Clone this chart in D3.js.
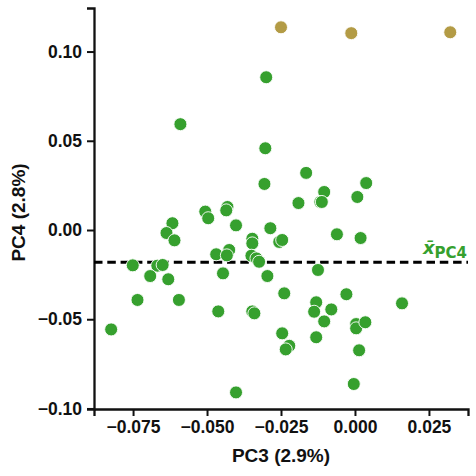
<!DOCTYPE html>
<html>
<head>
<meta charset="utf-8">
<script src="https://cdn.jsdelivr.net/npm/d3@7"></script>
<style>
  html, body { margin: 0; padding: 0; background: #fff; }
  svg { display: block; font-family: "Liberation Sans", Arial, sans-serif; }
</style>
</head>
<body>
<svg id="chart" width="476" height="476"></svg>
<script>
// PC3 / PC4 scores, group "green"
const greenPC3 = [
  -0.0300, -0.0590, -0.0303, -0.0165, -0.0306, 0.0038, -0.0104, 0.0008, -0.0191, -0.0117,
  -0.0112, -0.0506, -0.0496, -0.0431, -0.0435, -0.0617, -0.0637, -0.0610, -0.0402, -0.0286,
  -0.0347, -0.0347, -0.0256, -0.0246, -0.0061, 0.0019, -0.0469, -0.0425, -0.0433, -0.0350,
  -0.0333, -0.0324, -0.0751, -0.0668, -0.0650, -0.0692, -0.0631, -0.0446, -0.0296, -0.0125,
  -0.0239, -0.0735, -0.0595, -0.0029, -0.0131, -0.0138, -0.0080, 0.0159, -0.0462, -0.0347,
  -0.0340, -0.0104, 0.0004, 0.0004, 0.0035, -0.0824, -0.0246, -0.0131, -0.0222, -0.0234,
  0.0014, -0.0402, -0.0004
];
const greenPC4 = [
  0.0856, 0.0593, 0.0458, 0.0320, 0.0258, 0.0263, 0.0213, 0.0185, 0.0151, 0.0157,
  0.0157, 0.0103, 0.0066, 0.0129, 0.0110, 0.0038, -0.0017, -0.0058, 0.0026, 0.0010,
  -0.0049, -0.0075, -0.0067, -0.0056, -0.0024, -0.0045, -0.0136, -0.0112, -0.0142, -0.0144,
  -0.0159, -0.0178, -0.0198, -0.0200, -0.0196, -0.0258, -0.0276, -0.0243, -0.0258, -0.0224,
  -0.0355, -0.0392, -0.0392, -0.0360, -0.0405, -0.0458, -0.0445, -0.0411, -0.0456, -0.0456,
  -0.0467, -0.0512, -0.0527, -0.0551, -0.0517, -0.0557, -0.0579, -0.0601, -0.0649, -0.0669,
  -0.0674, -0.0910, -0.0863
];
// group "tan"
const tanPC3 = [-0.0250, -0.00125, 0.0322];
const tanPC4 = [0.1136, 0.1103, 0.1108];

const meanPC4 = -0.0181;
const xTicks = [-0.075, -0.050, -0.025, 0.000, 0.025];
const yTicks = [-0.10, -0.05, 0.00, 0.05, 0.10];
const xLabel = "PC3 (2.9%)";
const yLabel = "PC4 (2.8%)";

const green = "#36a02e";
const tan = "#b39b45";

const svg = d3.select("#chart");
const margin = { left: 94, right: 8, top: 8, bottom: 67 };
const W = 476, H = 476;

const x = d3.scaleLinear().domain([-0.0882, 0.0382]).range([margin.left, W - margin.right]);
const y = d3.scaleLinear().domain([-0.1003, 0.1244]).range([H - margin.bottom, margin.top]);

const fmt = d3.format(".3f");
const fmtY = d3.format(".2f");

const xAxis = d3.axisBottom(x).tickValues(xTicks).tickFormat(fmt).tickSizeOuter(0).tickSize(7).tickPadding(5);
const yAxis = d3.axisLeft(y).tickValues(yTicks).tickFormat(fmtY).tickSizeOuter(0).tickSize(7).tickPadding(5);

const gx = svg.append("g").attr("transform", `translate(0,${H - margin.bottom})`).call(xAxis);
const gy = svg.append("g").attr("transform", `translate(${margin.left},0)`).call(yAxis);

[gx, gy].forEach(g => {
  g.select(".domain").attr("stroke", "#111").attr("stroke-width", 2.3);
  g.selectAll(".tick line").attr("stroke", "#111").attr("stroke-width", 2);
  g.selectAll(".tick text").attr("fill", "#111").attr("font-size", 17.5).attr("font-weight", "bold")
    .attr("font-family", "'Liberation Sans', Arial, sans-serif");
});

// mean line
svg.append("line")
  .attr("x1", x.range()[0]).attr("x2", x.range()[1])
  .attr("y1", y(meanPC4)).attr("y2", y(meanPC4))
  .attr("stroke", "#000").attr("stroke-width", 3).attr("stroke-dasharray", "8.5,4.8");

// points
const greenData = greenPC3.map((v, i) => ({ x: v, y: greenPC4[i] }));
const tanData = tanPC3.map((v, i) => ({ x: v, y: tanPC4[i] }));

svg.append("g").selectAll("circle").data(greenData).join("circle")
  .attr("cx", d => x(d.x)).attr("cy", d => y(d.y)).attr("r", 6.5)
  .attr("fill", green).attr("stroke", "#fff").attr("stroke-width", 0.9);

svg.append("g").selectAll("circle").data(tanData).join("circle")
  .attr("cx", d => x(d.x)).attr("cy", d => y(d.y)).attr("r", 6.5)
  .attr("fill", tan).attr("stroke", "#fff").attr("stroke-width", 0.9);

// mean label
const ml = svg.append("text")
  .attr("x", 467).attr("y", y(meanPC4) - 8)
  .attr("text-anchor", "end").attr("fill", green).attr("font-weight", "bold")
  .attr("font-family", "'DejaVu Sans', sans-serif");
ml.append("tspan").attr("font-style", "italic").attr("font-size", 18).text("x\u0304");
ml.append("tspan").attr("font-size", 15).attr("dy", 4).text("PC4");

// axis labels
svg.append("text")
  .attr("x", (x.range()[0] + x.range()[1]) / 2).attr("y", 462)
  .attr("text-anchor", "middle").attr("font-size", 19).attr("font-weight", "bold").attr("fill", "#111")
  .text(xLabel);

svg.append("text")
  .attr("transform", `translate(25,${(y.range()[0] + y.range()[1]) / 2 + 4}) rotate(-90)`)
  .attr("text-anchor", "middle").attr("font-size", 19).attr("font-weight", "bold").attr("fill", "#111")
  .text(yLabel);
</script>
</body>
</html>
